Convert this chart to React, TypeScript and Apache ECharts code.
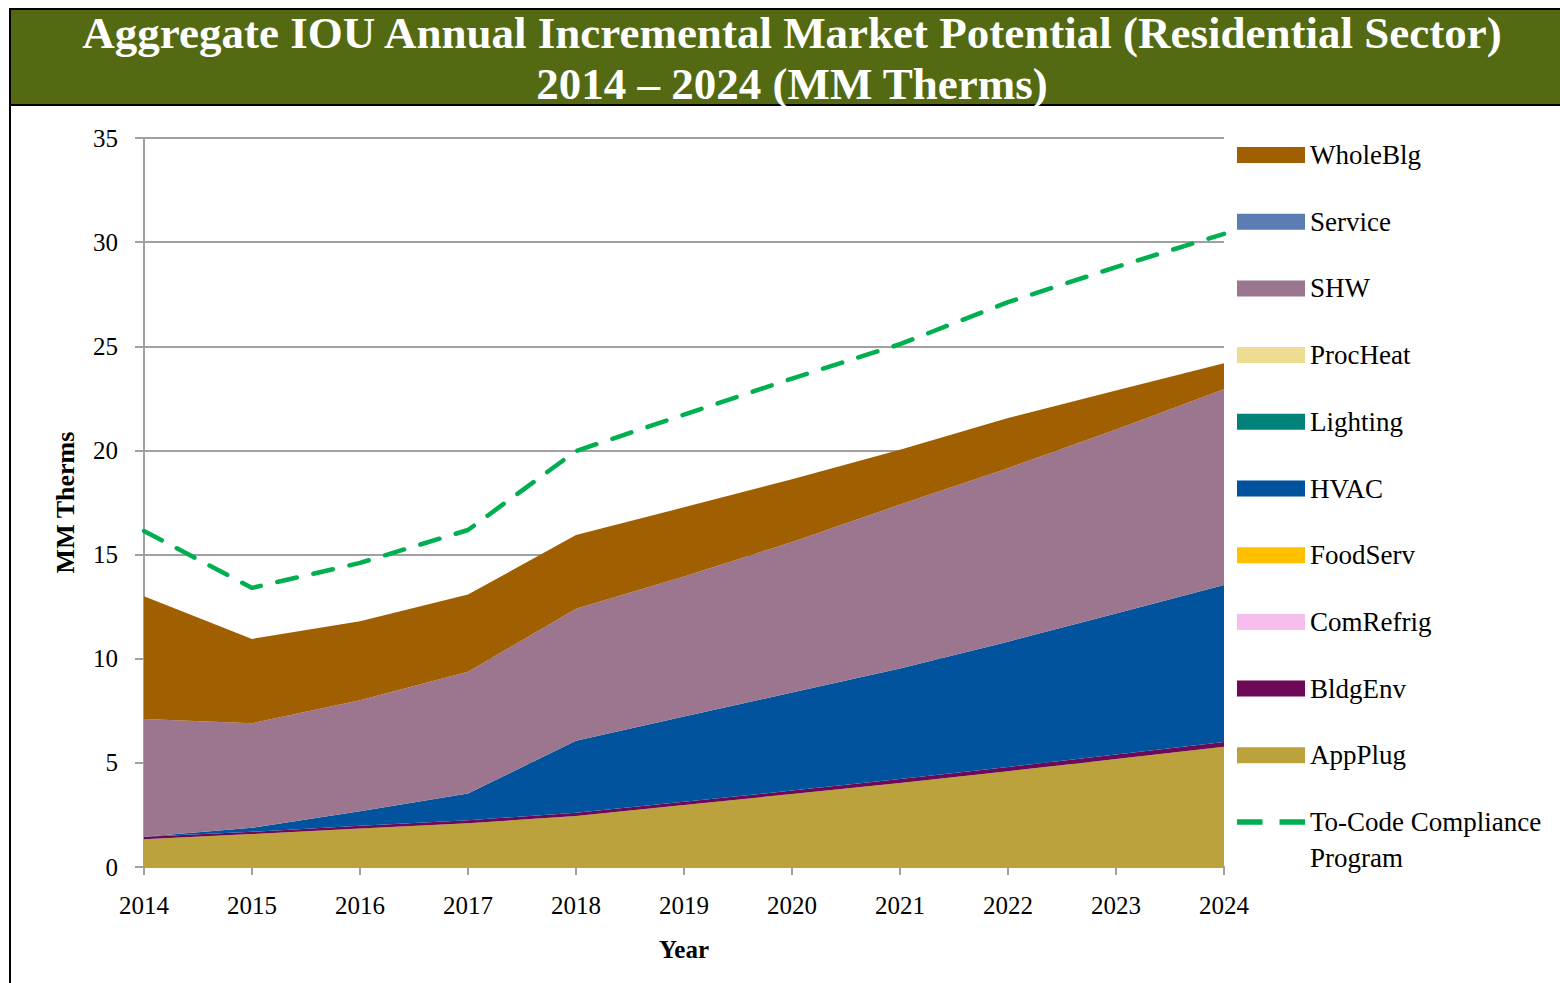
import React, { useEffect, useRef } from "react";
import * as echarts from "echarts";

const years = ["2014", "2015", "2016", "2017", "2018", "2019", "2020", "2021", "2022", "2023", "2024"];
const appPlug = [1.33, 1.58, 1.85, 2.1, 2.45, 2.98, 3.5, 4.03, 4.6, 5.18, 5.77];
const bldgEnv = [0.12, 0.11, 0.13, 0.15, 0.15, 0.15, 0.17, 0.19, 0.2, 0.22, 0.23];
const comRefrig = [0, 0, 0, 0, 0, 0, 0, 0, 0, 0, 0];
const foodServ = [0, 0, 0, 0, 0, 0, 0, 0, 0, 0, 0];
const hvac = [0, 0.19, 0.7, 1.28, 3.46, 4.09, 4.71, 5.31, 6.02, 6.77, 7.54];
const lighting = [0, 0, 0, 0, 0, 0, 0, 0, 0, 0, 0];
const procHeat = [0, 0, 0, 0, 0, 0, 0, 0, 0, 0, 0];
const shw = [5.65, 5.02, 5.32, 5.84, 6.34, 6.73, 7.22, 7.87, 8.33, 8.83, 9.4];
const service = [0, 0, 0, 0, 0, 0, 0, 0, 0, 0, 0];
const wholeBlg = [5.9, 4.05, 3.8, 3.71, 3.54, 3.32, 3.02, 2.63, 2.41, 1.88, 1.25];
const toCode = [16.13, 13.4, 14.6, 16.18, 19.97, 21.72, 23.45, 25.1, 27.12, 28.8, 30.4];

const areaSeries: [string, number[], string][] = [
  ["AppPlug", appPlug, "#BCA23C"],
  ["BldgEnv", bldgEnv, "#6D0A58"],
  ["ComRefrig", comRefrig, "#F7BDEC"],
  ["FoodServ", foodServ, "#FFC000"],
  ["HVAC", hvac, "#00539C"],
  ["Lighting", lighting, "#00827A"],
  ["ProcHeat", procHeat, "#EFDC93"],
  ["SHW", shw, "#9C758E"],
  ["Service", service, "#5B7DB3"],
  ["WholeBlg", wholeBlg, "#A05F00"],
];
const toCodeName = "To-Code Compliance Program";

const FONT = "Liberation Serif";

export default function App() {
  const ref = useRef<HTMLDivElement>(null);
  useEffect(() => {
    if (!ref.current) return;
    const chart = echarts.init(ref.current, null, { renderer: "svg" });
    const series: any[] = areaSeries.map(([name, data, color]) => ({
      name,
      type: "line",
      stack: "total",
      data,
      symbol: "none",
      lineStyle: { width: 0 },
      itemStyle: { color },
      areaStyle: { color, opacity: 1 },
      z: 2,
    }));
    series.push({
      name: toCodeName,
      type: "line",
      data: toCode,
      symbol: "none",
      itemStyle: { color: "#00B050" },
      lineStyle: { color: "#00B050", width: 4.5, type: [20, 17], cap: "round" },
      z: 5,
    });
    chart.setOption({
      animation: false,
      backgroundColor: "#ffffff",
      textStyle: { fontFamily: FONT },
      graphic: [
        {
          type: "rect",
          shape: { x: 10, y: 9, width: 1600, height: 96 },
          style: { fill: "#546A12", stroke: "#000000", lineWidth: 2 },
          z: 10,
        },
        {
          type: "line",
          shape: { x1: 10, y1: 105, x2: 10, y2: 990 },
          style: { stroke: "#000000", lineWidth: 2 },
          z: 10,
        },
        {
          type: "text",
          x: 792,
          y: 33,
          style: {
            text: "Aggregate IOU Annual Incremental Market Potential (Residential Sector)",
            fill: "#ffffff",
            font: `bold 45px "${FONT}"`,
            align: "center",
            verticalAlign: "middle",
          },
          z: 11,
        },
        {
          type: "text",
          x: 792,
          y: 84,
          style: {
            text: "2014 – 2024 (MM Therms)",
            fill: "#ffffff",
            font: `bold 45px "${FONT}"`,
            align: "center",
            verticalAlign: "middle",
          },
          z: 11,
        },
      ],
      grid: { left: 144, right: 336, top: 138, bottom: 116, containLabel: false },
      legend: [
        {
          orient: "vertical",
          left: 1232,
          top: 132,
          icon: "rect",
          itemWidth: 68,
          itemHeight: 16,
          itemGap: 30.7,
          selectedMode: false,
          data: areaSeries.map((s) => s[0]).reverse(),
          textStyle: { fontFamily: FONT, fontSize: 27, color: "#000000", lineHeight: 36 },
        },
        {
          orient: "vertical",
          left: 1232,
          top: 763,
          itemWidth: 68,
          itemHeight: 16,
          selectedMode: false,
          icon: "path://M0,0 h24 v5 h-24 z M40,0 h24 v5 h-24 z",
          data: [toCodeName],
          formatter: () => " \nTo-Code Compliance\nProgram",
          textStyle: {
            fontFamily: FONT,
            fontSize: 27,
            color: "#000000",
            lineHeight: 36,
          },
        },
      ],
      xAxis: {
        type: "category",
        data: years,
        boundaryGap: false,
        name: "Year",
        nameLocation: "middle",
        nameGap: 70,
        nameTextStyle: { fontFamily: FONT, fontSize: 25, fontWeight: "bold", color: "#000000" },
        axisLine: { lineStyle: { color: "#A0A0A0", width: 2 } },
        axisTick: { show: true, length: 8, inside: false, lineStyle: { color: "#A0A0A0", width: 2 } },
        axisLabel: { fontFamily: FONT, fontSize: 25, color: "#000000", margin: 26 },
        splitLine: { show: false },
      },
      yAxis: {
        type: "value",
        min: 0,
        max: 35,
        interval: 5,
        name: "MM Therms",
        nameLocation: "middle",
        nameGap: 66,
        nameTextStyle: { fontFamily: FONT, fontSize: 26, fontWeight: "bold", color: "#000000" },
        axisLine: { show: true, lineStyle: { color: "#A0A0A0", width: 2 } },
        axisTick: { show: true, length: 9, inside: false, lineStyle: { color: "#A0A0A0", width: 2 } },
        axisLabel: { fontFamily: FONT, fontSize: 25, color: "#000000", margin: 26 },
        splitLine: { show: true, lineStyle: { color: "#A0A0A0", width: 2 } },
      },
      series,
    });
    return () => chart.dispose();
  }, []);
  return (
    <div
      ref={ref}
      style={{ position: "absolute", left: 0, top: 0, width: 1560, height: 983, overflow: "hidden" }}
    />
  );
}
